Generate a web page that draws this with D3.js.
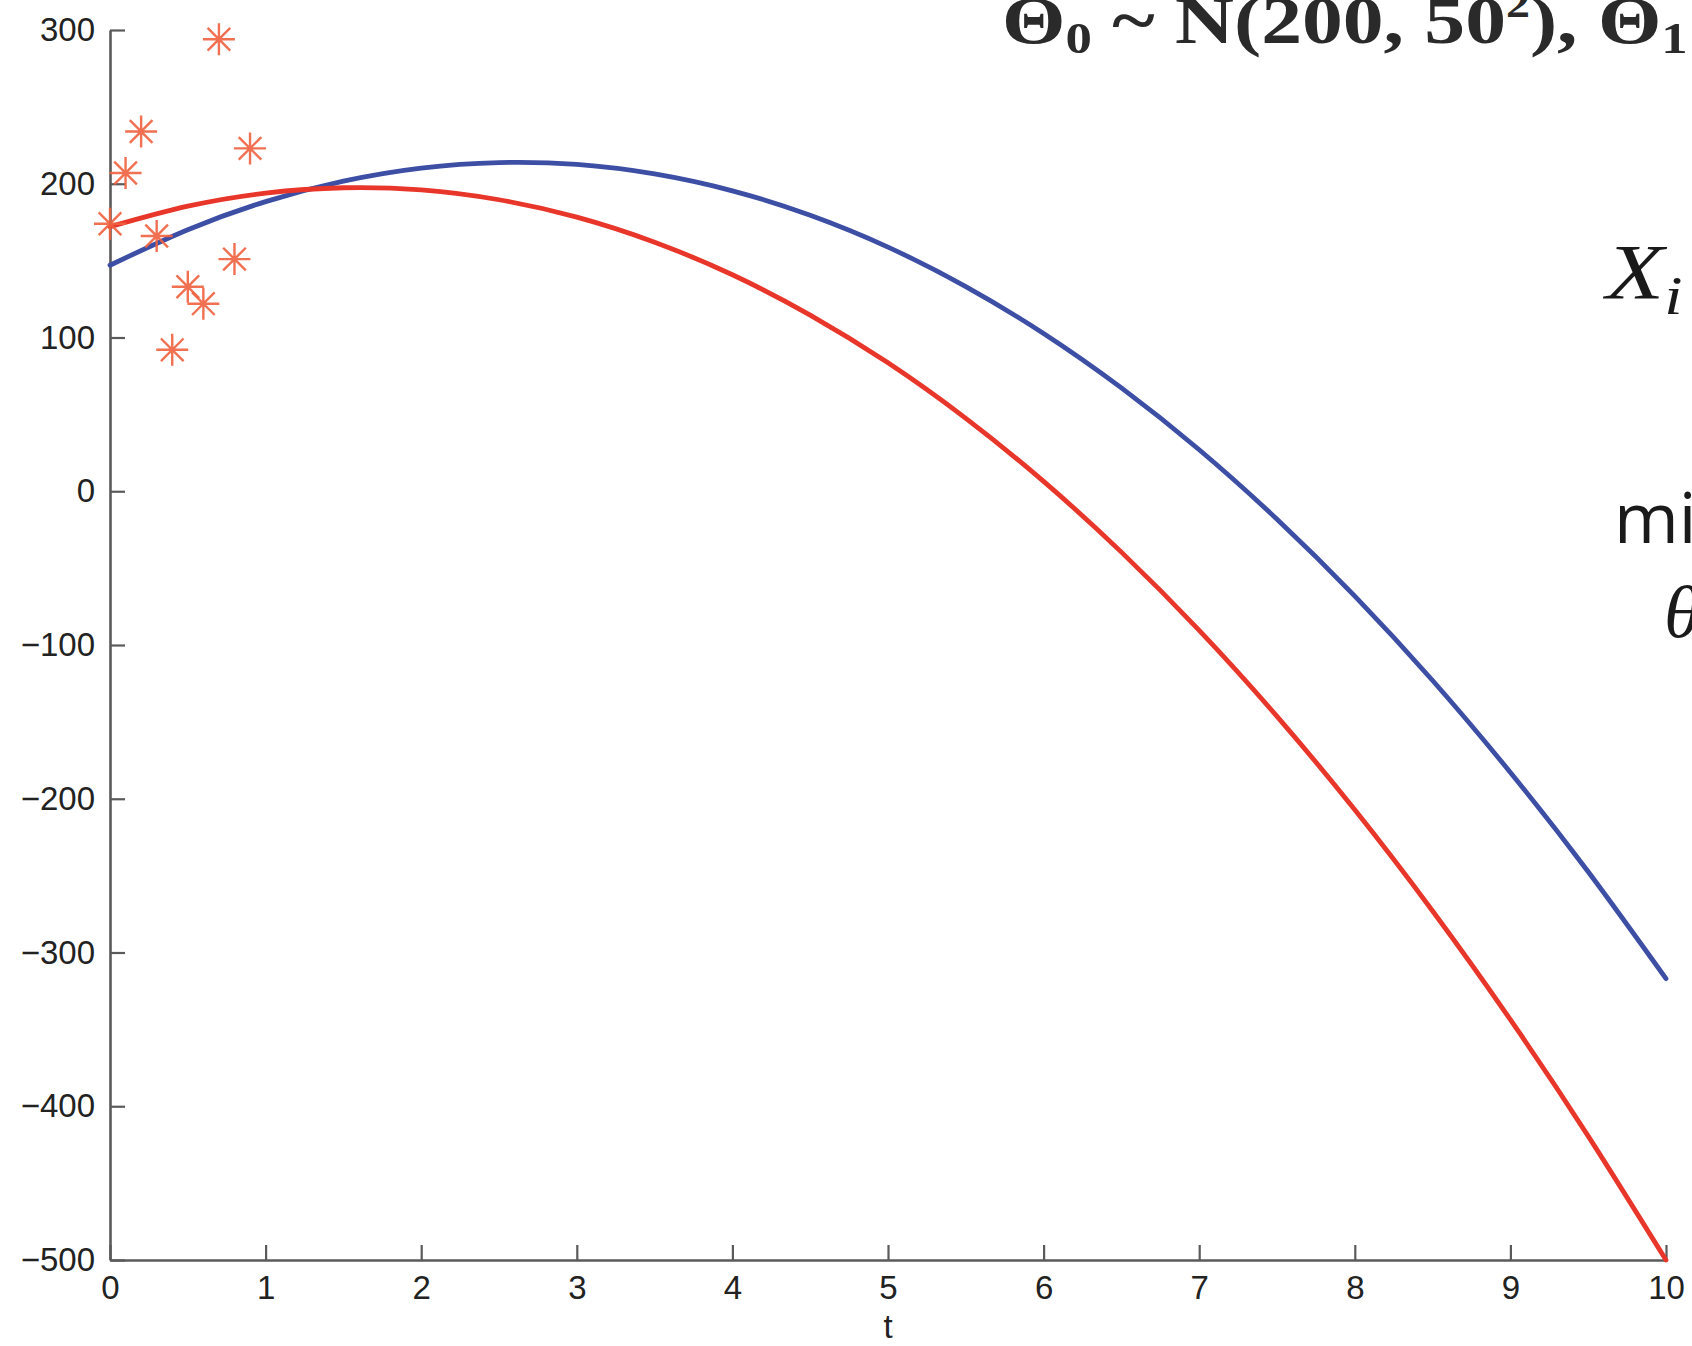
<!DOCTYPE html>
<html>
<head>
<meta charset="utf-8">
<script src="https://cdn.jsdelivr.net/npm/d3@7"></script>
<style>
  html, body { margin: 0; padding: 0; background: #fff; }
  svg { display: block; }
</style>
</head>
<body>
<svg id="chart" width="1692" height="1346"></svg>
<script>
// ---- data ----
const xTicks = [0, 1, 2, 3, 4, 5, 6, 7, 8, 9, 10];
const yTicks = [300, 200, 100, 0, -100, -200, -300, -400, -500];

// observations (asterisks)
const obsT = [0, 0.1, 0.2, 0.3, 0.4, 0.5, 0.6, 0.7, 0.8, 0.9];
const obsY = [174, 207, 234, 166, 92, 133, 122, 294, 151, 223];

// curve sample positions
const curveT = [0, 0.5, 1, 1.5, 2, 2.5, 3, 3.5, 4, 4.5, 5, 5.5, 6, 6.5, 7, 7.5, 8, 8.5, 9, 9.5, 10];
// blue curve
const blueY = [147, 170.1, 188.4, 201.7, 210.2, 213.8, 212.6, 206.4, 195.4, 179.5, 158.8, 133.1, 102.6, 67.2, 27.0, -18.2, -68.2, -123.1, -182.9, -247.5, -317];
// red curve
const redY = [172, 185.4, 193.9, 197.4, 196.0, 189.6, 178.3, 162.0, 140.8, 114.6, 83.5, 47.4, 6.4, -39.6, -90.5, -146.4, -207.2, -273.0, -343.7, -419.4, -500];

// ---- layout ----
const svg = d3.select("#chart");
svg.append("rect").attr("width", 1692).attr("height", 1346).attr("fill", "#fff");

const x = d3.scaleLinear().domain([0, 10]).range([110, 1666]);
const y = d3.scaleLinear().domain([-500, 300]).range([1260, 30]);

const axisColor = "#5a5a5a";
const tickFont = "Liberation Sans, Arial, Helvetica, sans-serif";

// y axis
const yAxis = svg.append("g")
  .attr("transform", `translate(${x(0)},0)`)
  .call(d3.axisLeft(y).tickValues(yTicks).tickSizeInner(-15).tickSizeOuter(0).tickPadding(15)
    .tickFormat(d => (d < 0 ? "\u2212" + Math.abs(d) : String(d))));
// x axis
const xAxis = svg.append("g")
  .attr("transform", `translate(0,${y(-500)})`)
  .call(d3.axisBottom(x).tickValues(xTicks).tickSizeInner(-15).tickSizeOuter(0).tickPadding(16)
    .tickFormat(d3.format("d")));

[yAxis, xAxis].forEach(g => {
  g.select(".domain").attr("stroke", axisColor).attr("stroke-width", 2.6);
  g.selectAll(".tick line").attr("stroke", axisColor).attr("stroke-width", 2.2);
  g.selectAll(".tick text").attr("fill", "#222").style("font-family", tickFont).style("font-size", "33px");
});

// x axis label
svg.append("text")
  .attr("x", x(5)).attr("y", 1338)
  .attr("text-anchor", "middle")
  .style("font-family", tickFont).style("font-size", "33px").attr("fill", "#222")
  .text("t");

// curves
const line = d3.line().x(d => x(d[0])).y(d => y(d[1])).curve(d3.curveNatural);
svg.append("path")
  .datum(curveT.map((t, i) => [t, blueY[i]]))
  .attr("d", line).attr("fill", "none")
  .attr("stroke", "#3d4ea5").attr("stroke-width", 4.8).attr("stroke-linecap", "round");
svg.append("path")
  .datum(curveT.map((t, i) => [t, redY[i]]))
  .attr("d", line).attr("fill", "none")
  .attr("stroke", "#e8372a").attr("stroke-width", 4.8).attr("stroke-linecap", "round");

// asterisk markers
const armLen = 16;
svg.append("g").selectAll("path")
  .data(obsT.map((t, i) => [t, obsY[i]]))
  .join("path")
  .attr("d", d => {
    const cx = x(d[0]), cy = y(d[1]);
    const p = d3.path();
    for (let k = 0; k < 4; k++) {
      const a = k * Math.PI / 4;
      const dx = armLen * Math.cos(a), dy = armLen * Math.sin(a);
      p.moveTo(cx - dx, cy - dy);
      p.lineTo(cx + dx, cy + dy);
    }
    return p.toString();
  })
  .attr("fill", "none")
  .attr("stroke", "#f0603f")
  .attr("stroke-width", 2.4)
  .attr("stroke-opacity", 0.9);

// title (clipped at the top-right edge, as in the reference)
const title = svg.append("text")
  .attr("transform", "translate(1002,43) scale(1.2,1)")
  .style("font-family", "Liberation Serif, Times New Roman, serif")
  .style("font-weight", "bold")
  .style("font-size", "68px")
  .attr("fill", "#2a2a2a");
title.append("tspan").text("\u0398");
title.append("tspan").attr("dy", 10).style("font-size", "44px").text("0");
title.append("tspan").attr("dy", -10).text(" ~ N(200, 50");
title.append("tspan").attr("dy", -26).style("font-size", "40px").text("2");
title.append("tspan").attr("dy", 26).text("), \u0398");
title.append("tspan").attr("dy", 10).style("font-size", "44px").text("1");
title.append("tspan").attr("dy", -10).text(" ~ N(0, 20");

// right side annotations (clipped)
const xi = svg.append("text")
  .attr("transform", "translate(1606,298) scale(1.22,1)")
  .style("font-family", "Liberation Serif, Times New Roman, serif")
  .style("font-style", "italic").style("font-size", "78px").attr("fill", "#1a1a1a");
xi.append("tspan").text("X");
xi.append("tspan").attr("dy", 16).style("font-size", "54px").text("i");

svg.append("text")
  .attr("x", 1614).attr("y", 543)
  .style("font-family", "Open Sans, sans-serif")
  .style("font-size", "70px").attr("fill", "#1a1a1a")
  .text("min");

svg.append("text")
  .attr("x", 1664).attr("y", 637)
  .style("font-family", "Liberation Serif, Times New Roman, serif")
  .style("font-style", "italic").style("font-size", "74px").attr("fill", "#1a1a1a")
  .text("\u03B8");
</script>
</body>
</html>
